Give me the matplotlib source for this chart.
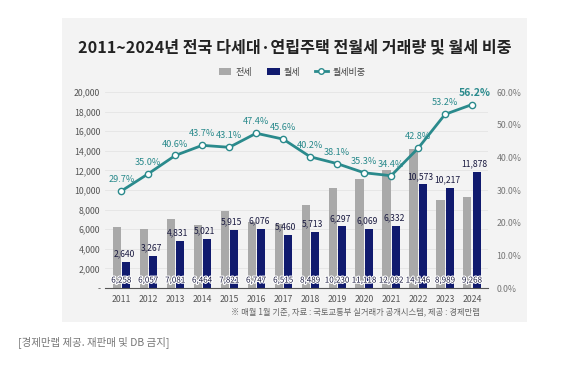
import matplotlib

matplotlib.use("Agg")

import matplotlib.patheffects as pe  # noqa: E402
import matplotlib.pyplot as plt  # noqa: E402
import numpy as np  # noqa: E402
from matplotlib.lines import Line2D  # noqa: E402
from matplotlib.patches import Patch, Rectangle  # noqa: E402

plt.rcParams["font.family"] = ["Noto Sans CJK KR", "DejaVu Sans"]

# --- data ---
YEARS = [str(y) for y in range(2011, 2025)]
JEONSE = [6258, 6057, 7081, 6464, 7821, 6747, 6515, 8489, 10230, 11118, 12092, 14146, 8989, 9268]
WOLSE = [2640, 3267, 4831, 5021, 5915, 6076, 5460, 5713, 6297, 6069, 6332, 10573, 10217, 11878]
RATIO = [29.7, 35.0, 40.6, 43.7, 43.1, 47.4, 45.6, 40.2, 38.1, 35.3, 34.4, 42.8, 53.2, 56.2]
LEFT_TICKS = [0, 2000, 4000, 6000, 8000, 10000, 12000, 14000, 16000, 18000, 20000]
RIGHT_TICKS = [0, 10, 20, 30, 40, 50, 60]

GRAY = "#a9a9a9"
NAVY = "#101a6e"
TEAL = "#2a8a8c"
PANEL = "#f3f3f3"

fig = plt.figure(figsize=(5.84, 3.70), dpi=100, facecolor="white")

# light panel behind the chart
fig.patches.append(
    Rectangle((0.106, 0.130), 0.796, 0.821, transform=fig.transFigure,
              facecolor=PANEL, edgecolor="none", zorder=-10)
)

ax = fig.add_axes([0.18, 0.2216, 0.656, 0.5294])
ax.set_facecolor("none")
x = np.arange(len(YEARS))
w = 0.30

ax.bar(x - w / 2 - 0.02, JEONSE, w, color=GRAY, zorder=2)
ax.bar(x + w / 2 + 0.02, WOLSE, w, color=NAVY, zorder=2)

halo = [pe.withStroke(linewidth=1.6, foreground="white")]
for i, (j, m) in enumerate(zip(JEONSE, WOLSE)):
    ax.text(i, 350, f"{j:,}", ha="center", va="bottom", fontsize=5.8,
            color="#1a1a40", zorder=4, path_effects=halo)
    ax.text(i + 0.1, m + 350, f"{m:,}", ha="center", va="bottom", fontsize=6.2,
            color="#1a1a40", zorder=4)

ax.set_xlim(-0.6, len(YEARS) - 0.4)
ax.set_ylim(0, 20000)
ax.set_yticks(LEFT_TICKS)
ax.set_yticklabels(["-"] + [f"{v:,}" for v in LEFT_TICKS[1:]])
ax.set_xticks(x)
ax.set_xticklabels(YEARS)
ax.tick_params(axis="both", length=0, labelsize=6.3, labelcolor="#555555")
ax.tick_params(axis="x", pad=5)
ax.grid(axis="y", color="#e4e4e4", linewidth=0.6, zorder=0)
for s in ["top", "right", "left"]:
    ax.spines[s].set_visible(False)
ax.spines["bottom"].set_color("#555555")
ax.spines["bottom"].set_linewidth(0.8)

ax2 = ax.twinx()
ax2.plot(x, RATIO, color=TEAL, linewidth=2, marker="o", markersize=4.5,
         markerfacecolor="white", markeredgecolor=TEAL, markeredgewidth=1, zorder=5)
for i, r in enumerate(RATIO):
    last = i == len(RATIO) - 1
    ax2.annotate(f"{r:.1f}%", (i, r), xytext=(2 if last else 0, 5),
                 textcoords="offset points", ha="center", va="bottom",
                 fontsize=7.5 if last else 6.6, fontweight="bold" if last else "normal",
                 color=TEAL)
ax2.set_ylim(0, 60)
ax2.set_yticks(RIGHT_TICKS)
ax2.set_yticklabels([f"{v:.1f}%" for v in RIGHT_TICKS])
ax2.tick_params(axis="y", length=0, labelsize=6.3, labelcolor="#777777", pad=6)
for s in ax2.spines.values():
    s.set_visible(False)

fig.text(0.505, 0.873, "2011~2024년 전국 다세대·연립주택 전월세 거래량 및 월세 비중",
         ha="center", va="center", fontsize=11.6, fontweight="bold", color="#222222")

handles = [
    Patch(facecolor=GRAY, label="전세"),
    Patch(facecolor=NAVY, label="월세"),
    Line2D([], [], color=TEAL, linewidth=2, marker="o", markersize=4,
           markerfacecolor="white", markeredgecolor=TEAL, label="월세비중"),
]
fig.legend(handles=handles, loc="center", bbox_to_anchor=(0.50, 0.805), ncol=3,
           frameon=False, fontsize=6.5, handlelength=1.4, handleheight=0.8,
           columnspacing=1.6, handletextpad=0.5, labelcolor="#444444")

fig.text(0.822, 0.157, "※ 매월 1월 기준, 자료 : 국토교통부 실거래가 공개시스템, 제공 : 경제만랩",
         ha="right", va="center", fontsize=6, style="italic", color="#666666")

fig.text(0.031, 0.076, "[경제만랩 제공. 재판매 및 DB 금지]", ha="left", va="center",
         fontsize=7.5, color="#777777")

fig.savefig("out.png", dpi=100, facecolor="white")
